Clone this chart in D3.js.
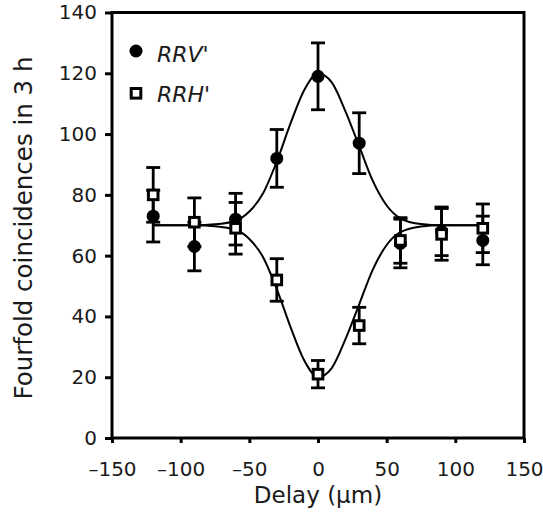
<!DOCTYPE html>
<html>
<head>
<meta charset="utf-8">
<script src="https://cdn.jsdelivr.net/npm/d3@7"></script>
<style>
  body { margin: 0; background: #fff; }
  svg { display: block; font-family: "DejaVu Sans", sans-serif; }
</style>
</head>
<body>
<div id="chart"></div>
<script>
// Measured points (delay in um, fourfold coincidences, error)
const delays = [-120, -90, -60, -30, 0, 30, 60, 90, 120];
const rrvValues = [73, 63, 72, 92, 119, 97, 64, 68, 65];
const rrvErrors = [8.5, 8, 8.5, 9.5, 11, 10, 8, 8, 8];
const rrhValues = [80, 71, 69, 52, 21, 37, 65, 67, 69];
const rrhErrors = [9, 8, 8.5, 7, 4.5, 6, 7.5, 8.5, 8];

// Fitted curves
const fitDelays = [-120, -90, -75, -60, -50, -40, -30, -20, -10, 0, 10, 20, 30, 40, 50, 60, 75, 90, 120];
const rrvFit = [70, 70, 70.3, 71.5, 74.5, 80.5, 91, 103.5, 114.5, 120, 117, 107.5, 96, 84.5, 76.5, 72.3, 70.4, 70, 70];
const rrhFit = [70, 70, 69.7, 68.5, 65.5, 59.5, 49, 36.5, 25.5, 20, 23, 32.5, 44, 55.5, 63.5, 67.7, 69.6, 70, 70];

const xTicks = [-150, -100, -50, 0, 50, 100, 150];
const yTicks = [0, 20, 40, 60, 80, 100, 120, 140];

const W = 543, H = 513;
const plot = { left: 112, right: 524, top: 12.5, bottom: 438 };

const svg = d3.select("#chart").append("svg")
    .attr("width", W).attr("height", H);

const x = d3.scaleLinear().domain([-150, 150]).range([plot.left, plot.right]);
const y = d3.scaleLinear().domain([0, 140]).range([plot.bottom, plot.top]);

// axes
const fmt = d => d < 0 ? "\u2013" + Math.abs(d) : String(d);

const xAxis = svg.append("g")
    .attr("transform", `translate(0,${plot.bottom})`)
    .call(d3.axisBottom(x).tickValues(xTicks).tickSize(5).tickPadding(19).tickFormat(fmt));

const yAxis = svg.append("g")
    .attr("transform", `translate(${plot.left},0)`)
    .call(d3.axisLeft(y).tickValues(yTicks).tickSize(7).tickPadding(8).tickFormat(fmt));

[xAxis, yAxis].forEach(a => {
    a.select(".domain").remove();
    a.selectAll(".tick line").attr("stroke", "#000").attr("stroke-width", 3);
    a.selectAll("text")
        .style("font-family", "'DejaVu Sans', sans-serif")
        .style("font-size", "20px")
        .attr("fill", "#1a1a1a");
});

// frame
svg.append("rect")
    .attr("x", plot.left).attr("y", plot.top)
    .attr("width", plot.right - plot.left).attr("height", plot.bottom - plot.top)
    .attr("fill", "none").attr("stroke", "#000").attr("stroke-width", 3);

// axis titles
svg.append("text")
    .attr("x", (plot.left + plot.right) / 2).attr("y", 503)
    .attr("text-anchor", "middle")
    .style("font-size", "23px").attr("fill", "#1a1a1a")
    .text("Delay (\u03bcm)");

svg.append("text")
    .attr("transform", "translate(32,228) rotate(-90)")
    .attr("text-anchor", "middle")
    .style("font-size", "24.5px").attr("fill", "#1a1a1a")
    .text("Fourfold coincidences in 3 h");

// fitted curves
const line = d3.line()
    .x((d, i) => x(fitDelays[i]))
    .y(d => y(d))
    .curve(d3.curveMonotoneX);

[rrvFit, rrhFit].forEach(fit => {
    svg.append("path")
        .datum(fit)
        .attr("d", line)
        .attr("fill", "none")
        .attr("stroke", "#000")
        .attr("stroke-width", 2);
});

// error bars
function errorBars(values, errors) {
    const g = svg.append("g").attr("stroke", "#000").attr("stroke-width", 2.8);
    delays.forEach((dx, i) => {
        const cx = x(dx), y1 = y(values[i] + errors[i]), y2 = y(values[i] - errors[i]);
        g.append("line").attr("x1", cx).attr("x2", cx).attr("y1", y1).attr("y2", y2);
        g.append("line").attr("x1", cx - 7).attr("x2", cx + 7).attr("y1", y1).attr("y2", y1);
        g.append("line").attr("x1", cx - 7).attr("x2", cx + 7).attr("y1", y2).attr("y2", y2);
    });
}
errorBars(rrvValues, rrvErrors);
errorBars(rrhValues, rrhErrors);

// markers
svg.append("g").selectAll("circle")
    .data(rrvValues).join("circle")
    .attr("cx", (d, i) => x(delays[i]))
    .attr("cy", d => y(d))
    .attr("r", 6.5)
    .attr("fill", "#000");

svg.append("g").selectAll("rect")
    .data(rrhValues).join("rect")
    .attr("x", (d, i) => x(delays[i]) - 4.8)
    .attr("y", d => y(d) - 4.8)
    .attr("width", 9.6).attr("height", 9.6)
    .attr("fill", "#fff")
    .attr("stroke", "#000").attr("stroke-width", 3);

// legend
svg.append("circle").attr("cx", 136).attr("cy", 51).attr("r", 6.5).attr("fill", "#000");
svg.append("text").attr("x", 157).attr("y", 62)
    .style("font-size", "22px").style("font-style", "italic").attr("fill", "#1a1a1a")
    .text("RRV'");

svg.append("rect").attr("x", 131.2).attr("y", 88.5).attr("width", 9.6).attr("height", 9.6)
    .attr("fill", "#fff").attr("stroke", "#000").attr("stroke-width", 3);
svg.append("text").attr("x", 157).attr("y", 102)
    .style("font-size", "22px").style("font-style", "italic").attr("fill", "#1a1a1a")
    .text("RRH'");
</script>
</body>
</html>
